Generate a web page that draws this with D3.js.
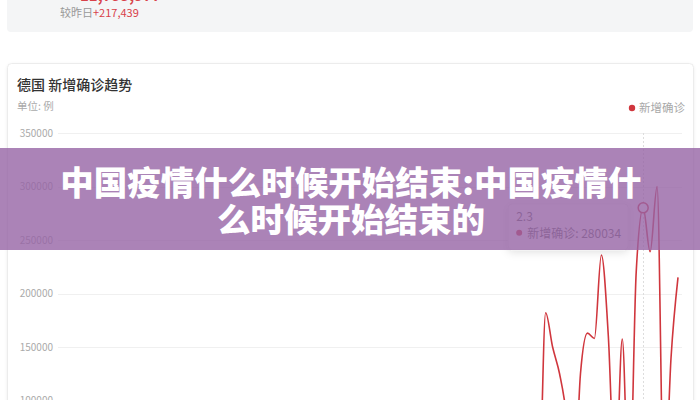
<!DOCTYPE html>
<html><head><meta charset="utf-8">
<script src="https://cdn.jsdelivr.net/npm/d3@7/dist/d3.min.js"></script>
<style>
body{margin:0;background:#fff;overflow:hidden;}
svg{display:block;font-family:"Noto Sans CJK SC","Noto Sans",sans-serif;}
</style>
</head><body>
<svg id="c" width="700" height="400"></svg>
<script>
// ---- data ----
const dates = [
 "11.11","11.12","11.13","11.14","11.15","11.16","11.17","11.18","11.19","11.20",
 "11.21","11.22","11.23","11.24","11.25","11.26","11.27","11.28","11.29","11.30",
 "12.1","12.2","12.3","12.4","12.5","12.6","12.7","12.8","12.9","12.10",
 "12.11","12.12","12.13","12.14","12.15","12.16","12.17","12.18","12.19","12.20",
 "12.21","12.22","12.23","12.24","12.25","12.26","12.27","12.28","12.29","12.30","12.31",
 "1.1","1.2","1.3","1.4","1.5","1.6","1.7","1.8","1.9","1.10",
 "1.11","1.12","1.13","1.14","1.15","1.16","1.17","1.18","1.19","1.20",
 "1.21","1.22","1.23","1.24","1.25","1.26","1.27","1.28","1.29","1.30","1.31",
 "2.1","2.2","2.3","2.4","2.5","2.6","2.7","2.8"
];
const newCases = [
 50200,48600,45100,23500,32000,39700,52800,65400,53000,63900,
 42700,30600,45300,66900,76000,76400,67100,44400,29400,45800,
 67200,73200,74400,64500,42100,27800,36100,69600,61300,53700,
 56300,32600,21700,27700,51300,51000,49800,42800,28600,16700,
 23400,45700,35400,44900,10100,10100,16000,21100,40000,41200,38000,
 17000,10000,18500,30600,58900,64300,56300,55900,36600,25300,
 45700,80400,81400,92200,78000,52500,34100,74400,5000,182000,
 150000,125000,85000,5000,125000,163000,158000,236000,160000,20000,157500,
 0,220000,280034,239000,300000,5000,140000,215000
];
const yTickValues = [0,50000,100000,150000,200000,250000,300000,350000];
const seriesName = "新增确诊";
const chartTitle = "德国 新增确诊趋势";
const unitLabel = "单位: 例";
const hoverDate = "2.3";
const headlineLines = ["中国疫情什么时候开始结束:中国疫情什","么时候开始结束的"];
const topCardLabel = "较昨日";
const topCardDelta = "+217,439";
const topCardNumber = "11,753,577";

// ---- drawing ----
const svg = d3.select("#c");
const lineColor = "#d0363d";

// top summary card
svg.append("rect").attr("x",7).attr("y",-10).attr("width",686).attr("height",42)
  .attr("rx",4).attr("fill","#f4f5f6");
svg.append("text").attr("x",80).attr("y",1).attr("font-size",15).attr("font-weight","bold")
  .attr("fill","#d8414a").text(topCardNumber);
const t1 = svg.append("text").attr("x",60).attr("y",17).attr("font-size",11);
t1.append("tspan").attr("fill","#999").text(topCardLabel);
t1.append("tspan").attr("fill","#d8414a").text(topCardDelta);

// chart card
svg.append("defs").html(`
 <filter id="sh" x="-5%" y="-5%" width="110%" height="110%">
   <feDropShadow dx="0" dy="1" stdDeviation="1.5" flood-color="#000" flood-opacity="0.07"/>
 </filter>
 <filter id="tsh" x="-20%" y="-20%" width="140%" height="160%">
   <feDropShadow dx="0" dy="2" stdDeviation="4" flood-color="#000" flood-opacity="0.12"/>
 </filter>`);
svg.append("rect").attr("x",7.5).attr("y",63.5).attr("width",686).attr("height",400)
  .attr("rx",4).attr("fill","#fff").attr("stroke","#ececec").attr("filter","url(#sh)");

svg.append("text").attr("x",17).attr("y",90).attr("font-size",14).attr("font-weight",500)
  .attr("fill","#333").text(chartTitle);
svg.append("text").attr("x",17).attr("y",110).attr("font-size",10.5)
  .attr("fill","#aaa").text(unitLabel);

// legend
svg.append("circle").attr("cx",632).attr("cy",108).attr("r",3.2).attr("fill",lineColor);
svg.append("text").attr("x",639).attr("y",112).attr("font-size",11.5)
  .attr("fill","#a8a8a8").text(seriesName);

// scales
const x = d3.scalePoint().domain(dates).range([58, 678]);
const y = d3.scaleLinear().domain([0, 350000]).range([507.5, 133]);

// grid + y labels
const grid = svg.append("g");
grid.selectAll("line").data(yTickValues).join("line")
  .attr("x1",58).attr("x2",682)
  .attr("y1",d=>Math.round(y(d))+0.5).attr("y2",d=>Math.round(y(d))+0.5)
  .attr("stroke","#f0f0f0");
grid.selectAll("text").data(yTickValues).join("text")
  .attr("x",53).attr("y",d=>y(d)).attr("dy","0.35em")
  .attr("text-anchor","end").attr("font-size",10).attr("fill","#aaa")
  .text(d=>d);

// line
const line = d3.line().x((d,i)=>x(dates[i])).y(d=>y(d)).curve(d3.curveMonotoneX);
svg.append("path").datum(newCases).attr("d",line)
  .attr("fill","none").attr("stroke",lineColor).attr("stroke-width",1.6);

// axis pointer
const hi = dates.indexOf(hoverDate);
const hx = x(hoverDate), hy = y(newCases[hi]);
svg.append("line").attr("x1",Math.round(hx)+0.5).attr("x2",Math.round(hx)+0.5)
  .attr("y1",y(350000)).attr("y2",420)
  .attr("stroke","#ddd").attr("stroke-dasharray","2,2");
svg.append("circle").attr("cx",hx).attr("cy",hy).attr("r",5)
  .attr("fill","#fff").attr("stroke",lineColor).attr("stroke-width",1.5);

// tooltip
const tip = svg.append("g").attr("transform",`translate(${hx-135},${hy-4})`);
tip.append("rect").attr("width",120).attr("height",46).attr("rx",4)
  .attr("fill","#fff").attr("stroke","#eee").attr("filter","url(#tsh)");
tip.append("text").attr("x",8).attr("y",17).attr("font-size",12).attr("fill","#666").text(hoverDate);
tip.append("circle").attr("cx",11).attr("cy",29).attr("r",3).attr("fill",lineColor);
tip.append("text").attr("x",19).attr("y",34).attr("font-size",12).attr("fill","#666")
  .text(`${seriesName}: ${newCases[hi]}`);

// headline banner
svg.append("rect").attr("x",0).attr("y",148).attr("width",700).attr("height",102)
  .attr("fill","rgba(150,100,165,0.8)");
svg.append("g").selectAll("text").data(headlineLines).join("text")
  .attr("x",351).attr("y",(d,i)=>195+i*37)
  .attr("text-anchor","middle").attr("font-size",33.5).attr("font-weight",900)
  .attr("fill","#fff").text(d=>d);
</script>
</body></html>
